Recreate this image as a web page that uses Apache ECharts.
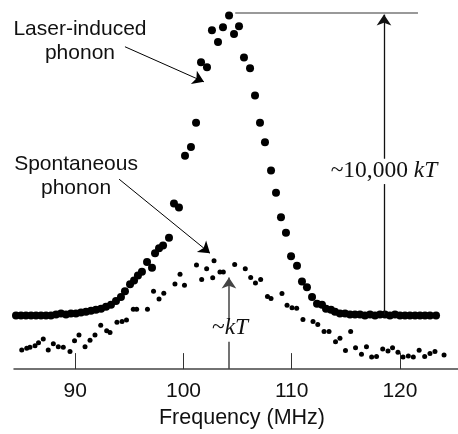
<!DOCTYPE html>
<html>
<head>
<meta charset="utf-8">
<script src="https://cdn.jsdelivr.net/npm/echarts@6/dist/echarts.min.js"></script>
<style>
html,body{margin:0;padding:0;background:#fff;}
#c{width:458px;height:434px;}
</style>
</head>
<body>
<div id="c"></div>
<script>
// Laser-induced phonon spectrum (frequency MHz, intensity arbitrary units)
var laserFreq = [84.52,84.98,85.44,85.91,86.37,86.83,87.29,87.75,88.22,88.68,89.14,89.60,90.06,90.53,90.99,91.45,91.91,92.38,92.84,93.30,93.76,94.22,94.59,95.06,95.43,95.79,96.16,96.63,97.09,97.37,97.74,98.11,98.66,99.12,99.58,100.14,100.69,101.16,101.62,102.17,102.63,103.19,103.65,104.21,104.67,105.13,105.59,106.15,106.61,107.07,107.53,108.09,108.55,109.01,109.47,109.94,110.49,110.95,111.41,111.88,112.34,112.80,113.17,113.63,114.00,114.46,114.93,115.39,115.85,116.31,116.77,117.24,117.70,118.16,118.62,119.08,119.55,120.01,120.47,120.93,121.40,121.86,122.32,122.78,123.34];
var laserIntensity = [55,55,55,55,55,55,55,55,56,57,56,57,57,58,59,60,61,62,64,66,70,74,80,87,91,96,100,110,104,119,124,127,135,170,166,219,228,253,315,310,348,336,351,363,344,352,320,309,281,253,233,204,181,156,140,116,106,90,84,74,67,66,62,61,59,57,57,56,56,56,55,56,55,56,56,55,56,55,55,55,55,55,55,55,55];

// Spontaneous phonon spectrum
var spontFreq = [85.05,85.51,85.81,86.28,86.60,87.04,87.50,87.97,88.43,88.89,89.51,89.93,90.34,90.90,91.36,91.82,92.35,92.90,93.21,93.85,94.32,94.73,95.36,95.67,96.67,97.23,97.74,98.18,99.21,99.68,100.09,101.20,101.68,102.14,102.70,102.82,103.37,103.68,104.73,105.71,106.21,106.65,107.13,107.76,108.09,109.10,109.57,110.03,110.46,111.04,111.97,112.41,112.99,113.45,114.05,114.46,114.97,115.45,115.90,116.45,116.91,117.39,117.84,118.41,118.90,119.32,119.82,120.29,120.78,121.24,121.78,122.29,122.78,123.24,124.08];
var spontIntensity = [19.5,21.5,22.5,24,27,31,19.5,26,23,22.5,18,29,35,23,29.5,35,45,39.5,37.5,48,49,50.5,61.5,61.5,61.5,80,72,78,87.3,97.3,86,107,92,103,93.7,111.3,99.7,99.7,107.5,103,94,88.5,92,74.5,72.5,77.7,65.5,63,62.5,51,49,45.7,38.5,38.5,28,31.7,19,38.5,22,15.3,23,12.3,13,20.7,18.5,22,17.3,12.5,13.5,12.5,19.3,13,16,18,14.5];

var tickValues = [90,100,110,120];
var xLabel = 'Frequency (MHz)';

function pairs(xs, ys){ return xs.map(function(x,i){ return [x, ys[i]]; }); }

var chart = echarts.init(document.getElementById('c'), null, {renderer:'canvas'});
var sans = 'Liberation Sans';
var serif = 'Liberation Serif';

function txt(coord, text, rich){
  return {
    coord: coord, symbol:'circle', symbolSize:1,
    itemStyle:{color:'rgba(0,0,0,0)'},
    label:{show:true, position:'inside', formatter:text, color:'#111', fontFamily:sans, fontSize:21, lineHeight:24, align:'center', verticalAlign:'middle', rich: rich || {}}
  };
}

var serifRich = {
  a:{fontFamily:serif, fontSize:23.5, color:'#111'},
  b:{fontFamily:serif, fontSize:23.5, fontStyle:'italic', color:'#111'}
};

var option = {
  animation:false,
  grid:{left:14, right:0, top:0, bottom:55},
  xAxis:{
    type:'value', min:84.335, max:125.37,
    axisLine:{show:true, lineStyle:{color:'#444', width:1.5}},
    axisTick:{show:true, inside:true, length:16, customValues:tickValues, lineStyle:{color:'#333', width:1}},
    axisLabel:{show:true, customValues:tickValues, fontSize:21, color:'#111', fontFamily:sans, margin:12},
    splitLine:{show:false},
    name:xLabel, nameLocation:'middle', nameGap:36,
    nameTextStyle:{fontSize:21.5, color:'#111', fontFamily:sans, padding:[0,0,0,12]}
  },
  yAxis:{type:'value', min:0, max:379, show:false, splitLine:{show:false}},
  series:[
    {
      name:'Laser-induced phonon', type:'scatter', data:pairs(laserFreq, laserIntensity),
      symbol:'circle', symbolSize:8, itemStyle:{color:'#000', opacity:1}, z:3,
      markLine:{
        silent:true, symbol:['none','arrow'], symbolSize:11, label:{show:false},
        lineStyle:{color:'#000', width:1, type:'solid'},
        data:[
          [{coord:[94.59,331]},{coord:[101.89,295]}],
          [{coord:[94.05,195]},{coord:[102.45,119]}],
          [{coord:[104.2,0], lineStyle:{color:'#444', width:1.5}},{coord:[104.2,28], symbol:'none'}],
          [{coord:[104.2,52], lineStyle:{color:'#444', width:1.5}},{coord:[104.2,94]}],
          [{coord:[118.53,56], lineStyle:{color:'#111', width:1.3}},{coord:[118.53,190], symbol:'none'}],
          [{coord:[118.53,216], lineStyle:{color:'#111', width:1.3}},{coord:[118.53,364]}],
          [{coord:[104.78,366], lineStyle:{color:'#777', width:1.5}},{coord:[121.67,366], symbol:'none'}]
        ]
      },
      markPoint:{
        silent:true,
        data:[
          txt([90.43,336.5], 'Laser-induced\nphonon'),
          txt([90.07,198], 'Spontaneous\nphonon'),
          txt([118.53,204], '{a|~10,000 }{b|kT}', serifRich),
          txt([104.3,42], '{a|~}{b|kT}', serifRich)
        ]
      }
    },
    {
      name:'Spontaneous phonon', type:'scatter', data:pairs(spontFreq, spontIntensity),
      symbol:'circle', symbolSize:5, itemStyle:{color:'#000', opacity:1}, z:3
    }
  ]
};
chart.setOption(option);
</script>
</body>
</html>
